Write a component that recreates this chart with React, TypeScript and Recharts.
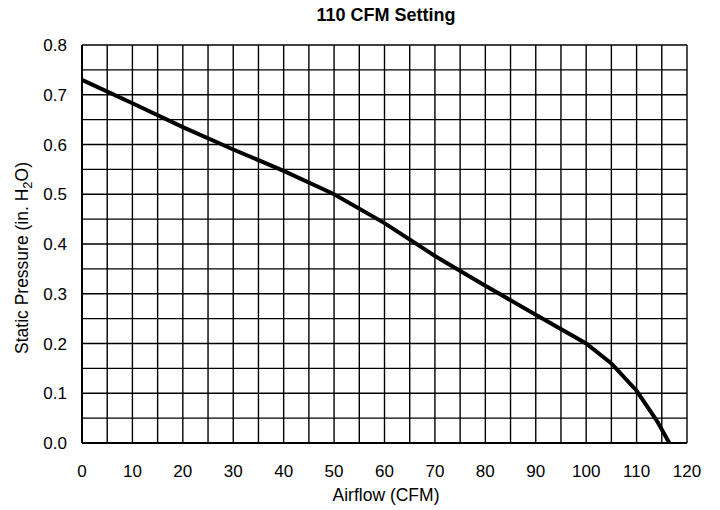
import React from 'react';
import { LineChart, Line, XAxis, YAxis, CartesianGrid, Label } from 'recharts';

// fan curve, airflow in CFM vs static pressure in in. H2O
const airflow = [0, 10, 20, 30, 40, 50, 60, 70, 80, 90, 100, 105, 110, 114, 116.5];
const pressure = [0.73, 0.683, 0.635, 0.59, 0.547, 0.5, 0.442, 0.376, 0.316, 0.258, 0.2, 0.16, 0.105, 0.045, 0];

const xTicks = Array.from({ length: 25 }, (_, i) => i * 5);
const yTicks = Array.from({ length: 17 }, (_, i) => Math.round(i * 5) / 100);

const data = airflow.map((a, i) => ({ airflow: a, pressure: pressure[i] }));

const font = '"Liberation Sans", Arial, Helvetica, sans-serif';

export default function App() {
  return (
    <div style={{ position: 'absolute', left: 0, top: 0, width: 720, height: 510, background: '#fff' }}>
      <LineChart
        width={720}
        height={510}
        data={data}
        margin={{ top: 45, right: 33, bottom: 37, left: 20 }}
        style={{ fontFamily: font }}
      >
        <text x={386} y={21} textAnchor="middle" fontSize={18} fontWeight="bold" fill="#000">
          110 CFM Setting
        </text>
        <CartesianGrid stroke="#000" strokeWidth={1.4} />
        <XAxis
          dataKey="airflow"
          type="number"
          domain={[0, 120]}
          ticks={xTicks}
          interval={0}
          tickLine={false}
          tickMargin={16}
          axisLine={{ stroke: '#000', strokeWidth: 2 }}
          tick={{ fill: '#000', fontSize: 17 }}
          tickFormatter={(v: number) => (v % 10 === 0 ? String(v) : '')}
          height={30}
        >
          <Label
            content={() => (
              <text x={386} y={501} textAnchor="middle" fontSize={17.5} fill="#000">
                Airflow (CFM)
              </text>
            )}
          />
        </XAxis>
        <YAxis
          type="number"
          domain={[0, 0.8]}
          ticks={yTicks}
          interval={0}
          tickLine={false}
          tickMargin={9}
          axisLine={{ stroke: '#000', strokeWidth: 2 }}
          tick={{ fill: '#000', fontSize: 17 }}
          tickFormatter={(v: number) => (Math.round(v * 100) % 10 === 0 ? v.toFixed(1) : '')}
          width={62}
        >
          <Label
            content={() => (
              <text x={28} y={258} textAnchor="middle" fontSize={17.5} fill="#000" transform="rotate(-90 28 258)">
                Static Pressure (in. H
                <tspan fontSize={13} dy={4}>2</tspan>
                <tspan dy={-4}>O)</tspan>
              </text>
            )}
          />
        </YAxis>
        <Line
          dataKey="pressure"
          type="linear"
          stroke="#000"
          strokeWidth={4}
          dot={false}
          isAnimationActive={false}
        />
      </LineChart>
    </div>
  );
}
